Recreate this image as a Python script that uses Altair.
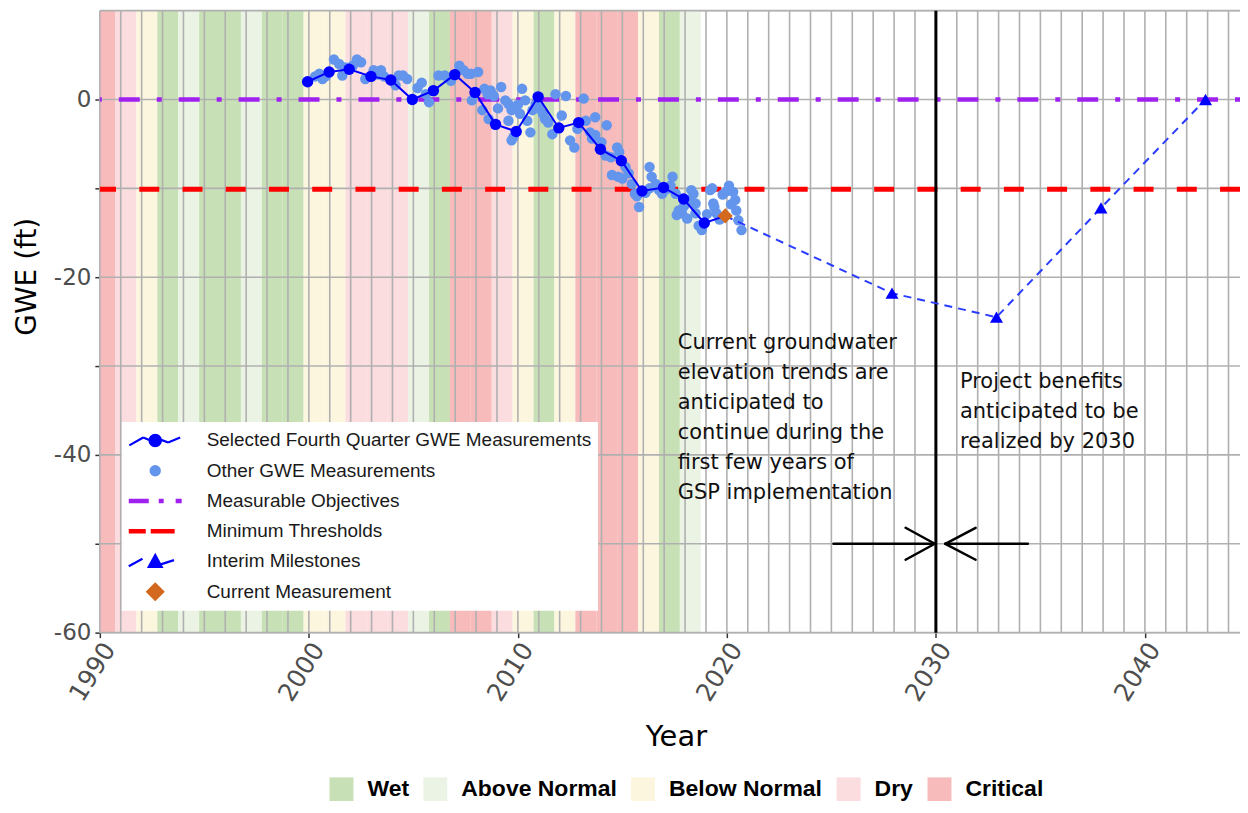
import altair as alt
import pandas as pd

# ---------------- data ----------------
wy_years = list(range(1990, 2019))
wy_types = ["Critical", "Dry", "Below Normal", "Wet", "Above Normal", "Wet", "Wet", "Above Normal", "Wet", "Wet",
            "Below Normal", "Below Normal", "Dry", "Dry", "Dry", "Above Normal", "Wet", "Critical", "Critical", "Dry",
            "Below Normal", "Wet", "Below Normal", "Critical", "Critical", "Critical", "Below Normal", "Wet", "Above Normal"]
wy_order = ["Wet", "Above Normal", "Below Normal", "Dry", "Critical"]
wy_colors = ["#c7e0b5", "#ebf3e5", "#fdf6df", "#fbdcdf", "#f8bbbb"]

fq_year = [1999.94, 2000.97, 2001.93, 2002.97, 2003.92, 2004.95, 2005.96, 2006.98, 2007.95, 2008.93,
           2009.92, 2010.97, 2011.96, 2012.91, 2013.95, 2014.95, 2015.94, 2016.97, 2017.93, 2018.92]
fq_gwe = [2.0, 3.1, 3.4, 2.6, 2.2, 0.0, 1.0, 2.8, 0.8, -2.8,
          -3.6, 0.3, -3.2, -2.6, -5.6, -6.9, -10.3, -9.9, -11.2, -13.9]

cur_year = [2019.92]
cur_gwe = [-13.1]

im_year = [2027.9, 2032.9, 2037.9, 2042.9]
im_gwe = [-21.8, -24.5, -12.2, 0.0]

oth_year = [2000.3, 2000.5, 2000.65, 2000.8, 2001.2, 2001.45, 2001.6, 2001.75, 2002.1, 2002.3,
            2002.5, 2002.7, 2003.1, 2003.3, 2003.45, 2003.6, 2004.15, 2004.3, 2004.5, 2004.7,
            2005.2, 2005.4, 2005.6, 2005.75, 2006.2, 2006.5, 2006.8, 2007.2, 2007.4, 2007.6,
            2007.75, 2007.8, 2008.1, 2008.3, 2008.4, 2008.55, 2008.6, 2008.7, 2008.85, 2009.05,
            2009.2, 2009.4, 2009.55, 2009.55, 2009.7, 2009.7, 2009.8, 2009.9, 2010.0, 2010.1,
            2010.2, 2010.35, 2010.45, 2010.6, 2010.7, 2010.85, 2011.0, 2011.2, 2011.3, 2011.45,
            2011.65, 2011.8, 2012.1, 2012.3, 2012.5, 2012.7, 2012.85, 2013.15, 2013.25, 2013.45,
            2013.55, 2013.7, 2013.7, 2014.0, 2014.2, 2014.25, 2014.45, 2014.5, 2014.75, 2014.8,
            2014.85, 2015.0, 2015.15, 2015.3, 2015.45, 2015.6, 2015.7, 2015.8, 2016.1, 2016.3,
            2016.3, 2016.4, 2016.6, 2016.75, 2016.9, 2017.1, 2017.3, 2017.4, 2017.55, 2017.6,
            2017.7, 2017.85, 2017.95, 2018.1, 2018.25, 2018.3, 2018.4, 2018.5, 2018.5, 2018.65,
            2018.8, 2019.05, 2019.2, 2019.3, 2019.35, 2019.4, 2019.5, 2019.65, 2019.8, 2020.0,
            2020.1, 2020.2, 2020.3, 2020.4, 2020.45, 2020.55, 2020.7]
oth_gwe = [2.6, 2.9, 2.3, 2.6, 4.5, 4.0, 2.7, 3.6, 3.8, 4.5,
           4.2, 2.3, 3.3, 2.8, 3.3, 2.6, 1.6, 2.7, 2.7, 2.3,
           1.3, 1.9, 0.6, -0.3, 2.7, 2.7, 2.1, 3.8, 3.3, 2.9,
           2.9, -0.1, 3.1, -1.2, 1.2, 0.6, -2.2, 1.0, 0.4, -1.0,
           1.4, -0.1, -0.5, -2.4, -1.2, -4.6, -4.2, -0.9, -0.6, -1.6,
           1.2, -0.1, -2.4, -3.7, -1.2, -0.5, -1.0, -1.6, -2.2, -2.6,
           -3.9, 0.6, -1.8, 0.4, -4.6, -5.4, -3.3, 0.1, -2.4, -3.7,
           -4.4, -4.0, -2.0, -4.8, -6.3, -2.9, -6.5, -8.5, -5.4, -8.7,
           -5.9, -8.9, -7.6, -8.3, -9.5, -10.6, -10.9, -12.1, -10.5, -7.6,
           -10.0, -8.7, -9.5, -10.2, -10.6, -10.1, -9.7, -8.7, -10.6, -13.0,
           -12.5, -12.8, -12.0, -13.4, -11.3, -10.2, -10.6, -12.8, -11.7, -14.2,
           -14.7, -12.9, -10.2, -10.0, -11.7, -12.1, -12.8, -13.5, -10.7, -10.3,
           -9.7, -11.8, -10.4, -11.3, -12.5, -13.6, -14.7]

mo_level = [0.0]
mt_level = [-10.1]
milestone_year_line = [2030]

grid_years = list(range(1990, 2045))
grid_levels = list(range(-60, 11, 10))

arrow_x = [2025.1, 2028.55, 2028.55, 2034.4, 2031.9, 2031.9]
arrow_y = [-50, -48.2, -51.8, -50, -48.2, -51.8]
arrow_x2 = [2029.95, 2029.95, 2029.95, 2030.45, 2030.45, 2030.45]
arrow_y2 = [-50, -50, -50, -50, -50, -50]

ann_text = ["Current groundwater\nelevation trends are\nanticipated to\ncontinue during the\nfirst few years of\nGSP implementation",
            "Project benefits\nanticipated to be\nrealized by 2030"]
ann_x = [2017.65, 2031.15]
ann_y = [-26.2, -30.6]

legend_names = ["Selected Fourth Quarter GWE Measurements", "Other GWE Measurements",
                "Measurable Objectives", "Minimum Thresholds", "Interim Milestones", "Current Measurement"]
legend_colors = ["#0000ff", "#6495ed", "#a020f0", "#ff0000", "#0000ff", "#d2691e"]
# legend key glyphs (SVG paths, unit = 11 px)
legend_paths = [
    "M-1.0,0.45 L0.27,-0.27 M0.27,-0.27 L0.81,-0.05 M1.91,-0.05 L2.54,0.18 M2.54,0.18 L3.63,-0.27 "
    "M0.84,0 A0.52,0.52 0 1,0 1.88,0 A0.52,0.52 0 1,0 0.84,0 Z",
    "M0.94,0 A0.42,0.42 0 1,0 1.78,0 A0.42,0.42 0 1,0 0.94,0 Z",
    "M-0.95,-0.1 L0.67,-0.1 L0.67,0.1 L-0.95,0.1 Z M1.78,-0.1 L2.03,-0.1 L2.03,0.1 L1.78,0.1 Z "
    "M3.32,-0.1 L3.67,-0.1 L3.67,0.1 L3.32,0.1 Z",
    "M-0.95,-0.1 L0.4,-0.1 L0.4,0.1 L-0.95,0.1 Z M1.05,-0.1 L3.03,-0.1 L3.03,0.1 L1.05,0.1 Z",
    "M-1.05,0.43 L0.2,-0.25 M1.86,0.27 L3.07,-0.12 M1.36,-0.59 L1.95,0.5 L0.77,0.5 Z",
    "M1.36,-0.73 L2.09,0 L1.36,0.73 L0.63,0 Z",
]

# ---------------- tables ----------------
bands = pd.DataFrame({"wy": wy_years, "type": wy_types})
fq = pd.DataFrame({"year": fq_year, "gwe": fq_gwe})
fq_line = pd.DataFrame({"year": fq_year + cur_year, "gwe": fq_gwe + cur_gwe})
cur = pd.DataFrame({"year": cur_year, "gwe": cur_gwe})
im_line = pd.DataFrame({"year": cur_year + im_year, "gwe": cur_gwe + im_gwe})
im = pd.DataFrame({"year": im_year, "gwe": im_gwe})
oth = pd.DataFrame({"year": oth_year, "gwe": oth_gwe})
vgrid = pd.DataFrame({"year": grid_years})
hgrid = pd.DataFrame({"gwe": grid_levels})
mo = pd.DataFrame({"gwe": mo_level})
mt = pd.DataFrame({"gwe": mt_level})
vline = pd.DataFrame({"year": milestone_year_line})
arrows = pd.DataFrame({"year": arrow_x, "gwe": arrow_y, "year2": arrow_x2, "gwe2": arrow_y2})
ann = pd.DataFrame({"year": ann_x, "gwe": ann_y, "txt": ann_text})
leg = pd.DataFrame({"series": legend_names})

# ---------------- scales / axes ----------------
W, H = 1142, 623
xs = alt.Scale(domain=[1990, 2044.55], nice=False, zero=False)
ys = alt.Scale(domain=[-60, 10], nice=False, zero=False)
AXF = "DejaVu Sans"
xaxis = alt.Axis(values=[1990, 2000, 2010, 2020, 2030, 2040], format="d", grid=False, domain=False,
                 tickColor="#333333", tickSize=5, tickWidth=1.5,
                 labelFont=AXF, labelFontSize=25, labelColor="#4d4d4d", labelAngle=302,
                 labelAlign="right", labelBaseline="middle", labelPadding=7, labelOffset=9,
                 title="Year", titleFont=AXF, titleFontSize=29, titleFontWeight="normal",
                 titleColor="#000000", titleX=577, titleY=104, titleBaseline="middle")
yaxis = alt.Axis(values=[-60, -50, -40, -30, -20, -10, 0], grid=False, domain=False,
                 labelExpr="datum.value % 20 == 0 ? toString(datum.value) : ''",
                 tickColor="#333333", tickSize=5, tickWidth=1.5,
                 labelFont=AXF, labelFontSize=23, labelColor="#4d4d4d", labelPadding=4,
                 title="GWE (ft)", titleFont=AXF, titleFontSize=28, titleFontWeight="normal",
                 titleColor="#000000", titleX=-72, titleY=266, titleAngle=270,
                 titleAlign="center", titleBaseline="middle")


def X(f):
    return alt.X(f"{f}:Q", scale=xs, axis=xaxis)


def Y(f):
    return alt.Y(f"{f}:Q", scale=ys, axis=yaxis)


band_legend = alt.Legend(title=None, orient="none", legendX=230, legendY=768, direction="horizontal",
                         symbolType="square", symbolSize=576, symbolStrokeWidth=0, symbolOpacity=1,
                         labelFont="Liberation Sans", labelFontWeight="bold", labelFontSize=23,
                         labelColor="#000000", labelOffset=14, columnPadding=14, padding=0)

band_layer = alt.Chart(bands).transform_calculate(
    x0="datum.wy - 0.25", x1="datum.wy + 0.75"
).mark_rect(clip=True, opacity=1).encode(
    x=X("x0"), x2="x1:Q",
    y=alt.datum(-60, scale=ys, axis=yaxis), y2=alt.datum(10),
    color=alt.Color("type:N", scale=alt.Scale(domain=wy_order, range=wy_colors), legend=band_legend),
)

grid_color = "#b0b0b0"
vgrid_layer = alt.Chart(vgrid).mark_rule(color=grid_color, strokeWidth=1.6).encode(x=X("year"))
hgrid_layer = alt.Chart(hgrid).mark_rule(color=grid_color, strokeWidth=1.6).encode(y=Y("gwe"))

mo_layer = alt.Chart(mo).mark_rule(color="#a020f0", strokeWidth=4.5, strokeDash=[5, 17, 21, 17],
                                   strokeCap="butt").encode(y=Y("gwe"))
mt_layer = alt.Chart(mt).mark_rule(color="#ff0000", strokeWidth=5, strokeDash=[20, 23.3],
                                   strokeCap="butt").encode(y=Y("gwe"))
vline_layer = alt.Chart(vline).mark_rule(color="#000000", strokeWidth=3).encode(x=X("year"))

oth_layer = alt.Chart(oth).mark_circle(color="#6495ed", size=110, opacity=1).encode(x=X("year"), y=Y("gwe"))
fq_line_layer = alt.Chart(fq_line).mark_line(color="#0000ff", strokeWidth=2).encode(x=X("year"), y=Y("gwe"))
fq_pt_layer = alt.Chart(fq).mark_circle(color="#0000ff", size=130, opacity=1).encode(x=X("year"), y=Y("gwe"))
im_line_layer = alt.Chart(im_line).mark_line(color="#2a3cff", strokeWidth=2, strokeDash=[8, 6]).encode(
    x=X("year"), y=Y("gwe"))
im_pt_layer = alt.Chart(im).mark_point(shape="triangle-up", filled=True, color="#0000ff", size=170,
                                       opacity=1).encode(x=X("year"), y=Y("gwe"))
cur_layer = alt.Chart(cur).mark_point(shape="diamond", filled=True, color="#d2691e", size=230,
                                      opacity=1).encode(x=X("year"), y=Y("gwe"))

arrow_layer = alt.Chart(arrows).mark_rule(color="#000000", strokeWidth=2.5, strokeCap="round").encode(
    x=X("year"), y=Y("gwe"), x2="year2:Q", y2="gwe2:Q")

ann_layer = alt.Chart(ann).mark_text(align="left", baseline="top", font="DejaVu Sans", fontSize=21,
                                     lineBreak="\n", lineHeight=30, color="#111111").encode(
    x=X("year"), y=Y("gwe"), text="txt:N")

leg_def = alt.Legend(title=None, orient="none", legendX=22, legendY=412, fillColor="#ffffff", padding=6,
                     symbolSize=484, symbolStrokeWidth=2.2, symbolOpacity=1,
                     labelFont="Liberation Sans", labelFontSize=19, labelColor="#1a1a1a", labelOffset=54,
                     rowPadding=7.3, labelLimit=600)
leg_layer = alt.Chart(leg).transform_filter("false").mark_point(filled=True, opacity=1).encode(
    x=X("year"), y=Y("gwe"),
    shape=alt.Shape("series:N", scale=alt.Scale(domain=legend_names, range=legend_paths), legend=leg_def),
    fill=alt.Fill("series:N", scale=alt.Scale(domain=legend_names, range=legend_colors), legend=leg_def),
    stroke=alt.Stroke("series:N", scale=alt.Scale(domain=legend_names, range=legend_colors), legend=leg_def),
)

chart = alt.layer(
    band_layer, vgrid_layer, hgrid_layer, mo_layer, mt_layer, vline_layer,
    oth_layer, fq_line_layer, fq_pt_layer, im_line_layer, im_pt_layer, cur_layer,
    arrow_layer, ann_layer, leg_layer
).resolve_scale(color="independent").properties(
    width=W, height=H,
    autosize=alt.AutoSizeParams(type="none"),
    padding={"left": 92, "top": 2, "right": 0, "bottom": 168},
).configure_view(stroke=None).configure(background="#ffffff")

chart.save("out.html", embed_options={"renderer": "svg", "actions": False})
